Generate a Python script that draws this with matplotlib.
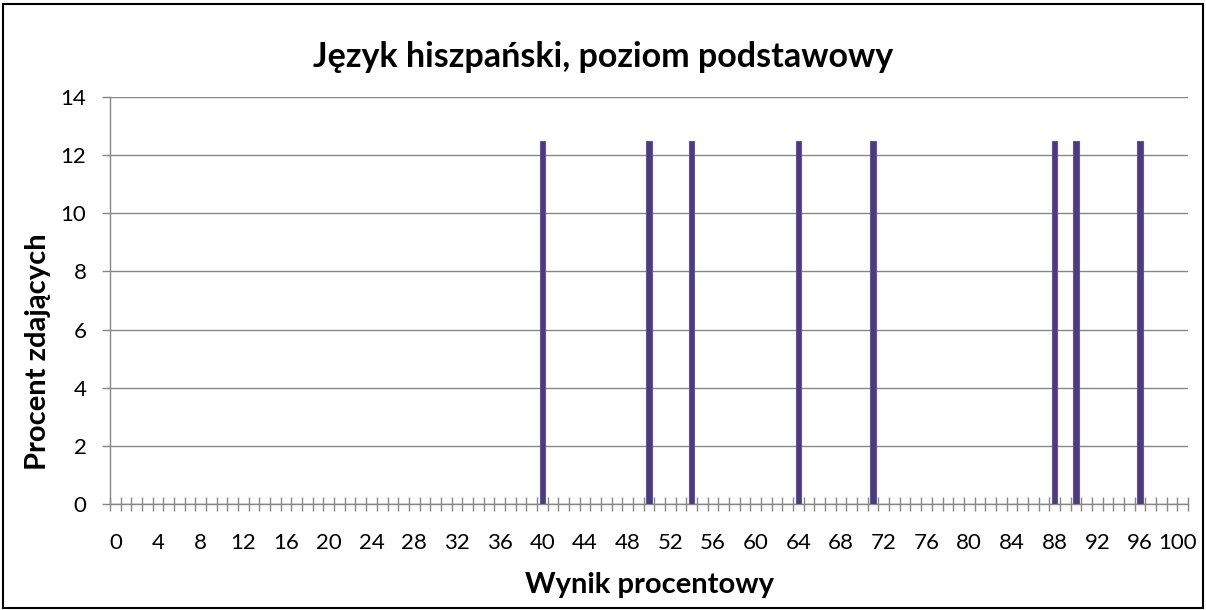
import matplotlib
matplotlib.use("Agg")
import matplotlib.pyplot as plt
from matplotlib.patches import Rectangle
import matplotlib.transforms as mtransforms
import numpy as np

# Data
categories = list(range(0, 101))
bar_scores = [40, 50, 54, 64, 71, 88, 90, 96]
bar_values = [12.5, 12.5, 12.5, 12.5, 12.5, 12.5, 12.5, 12.5]
title = "Język hiszpański, poziom podstawowy"
xlabel = "Wynik procentowy"
ylabel = "Procent zdających"
yticks = [0, 2, 4, 6, 8, 10, 12, 14]
xtick_labels = list(range(0, 101, 4))

values = [0.0] * len(categories)
for s, v in zip(bar_scores, bar_values):
    values[categories.index(s)] = v

plt.rcParams['font.family'] = ['Lato', 'DejaVu Sans']

fig = plt.figure(figsize=(12.06, 6.10), dpi=100)
ax = fig.add_axes([110/1206, 1-504/610, (1188-110)/1206, (504-97)/610])

grid_c = '#878787'
ax.bar(categories, values, width=0.5, color='#4E3B7C', edgecolor='#6352A0', linewidth=0.8, zorder=3)

ax.set_xlim(-0.5, 100.5)
ax.set_ylim(0, 14)
ax.set_yticks(yticks)
ax.yaxis.grid(True, color=grid_c, linewidth=1.0, zorder=0)
ax.set_axisbelow(True)

ax.set_xticks(xtick_labels)
ax.set_xticklabels([str(v) for v in xtick_labels], fontsize=16)
ax.set_xticks(np.arange(-0.5, 101, 1), minor=True)
ax.tick_params(axis='x', which='major', length=0, pad=21)
ax.tick_params(axis='x', which='minor', direction='inout', length=10, width=1.0, color=grid_c)
ax.tick_params(axis='y', which='major', direction='out', length=6, width=1.0, color=grid_c, labelsize=16, pad=11)

# shift the last label slightly left, as in the reference
last = ax.get_xticklabels()[-1]
last.set_transform(last.get_transform() + mtransforms.ScaledTranslation(-5/100, 0, fig.dpi_scale_trans))

for side in ['top', 'right']:
    ax.spines[side].set_visible(False)
ax.spines['left'].set_color(grid_c)
ax.spines['bottom'].set_color(grid_c)
ax.spines['left'].set_linewidth(1.0)
ax.spines['bottom'].set_linewidth(1.0)

fig.text(0.5, 1-57/610, title, ha='center', va='center', fontsize=24.5, fontweight='bold')
fig.text((110+1188)/2/1206, 1-585/610, xlabel, ha='center', va='center', fontsize=21, fontweight='bold')
fig.text(38/1206, 1-352/610, ylabel, ha='center', va='center', rotation=90, fontsize=21, fontweight='bold')

fig.patches.append(Rectangle((3/1206, 2/610), 1-6/1206, 1-6/610, transform=fig.transFigure,
                             fill=False, edgecolor='black', linewidth=1.5))

fig.savefig('out.png', dpi=100)
